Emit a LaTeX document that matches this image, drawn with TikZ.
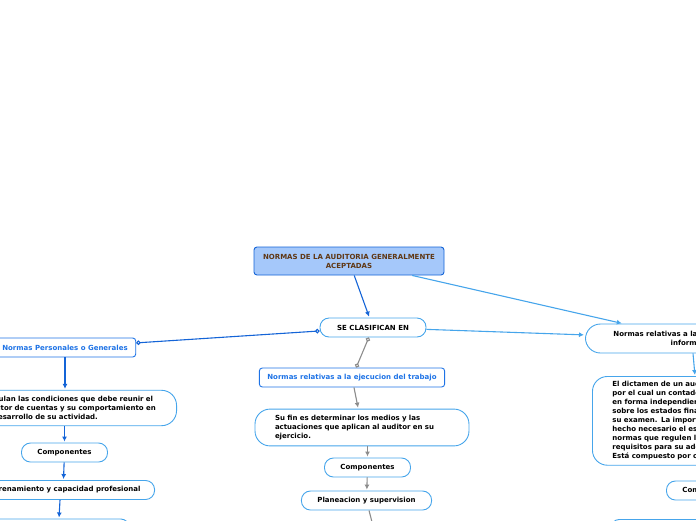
\documentclass[tikz,border=0pt]{standalone}
\usepackage{fontspec}
\setmainfont{DejaVu Sans}
\usetikzlibrary{arrows.meta}
\definecolor{lineblue}{RGB}{70,165,235}
\definecolor{deepblue}{RGB}{20,100,215}
\definecolor{topicblue}{RGB}{30,115,230}
\definecolor{rootfill}{RGB}{165,200,250}
\definecolor{roottext}{RGB}{95,55,20}
\definecolor{linkgray}{RGB}{140,140,140}
\tikzset{
  mapfont/.style={font=\fontsize{7}{9}\selectfont\bfseries},
  pill/.style={mapfont, draw=lineblue, line width=0.9pt, fill=white, rounded corners=9pt,
    inner xsep=16pt, inner ysep=0pt, minimum height=19pt, text=black},
  topic/.style={mapfont, draw=topicblue, line width=0.9pt, fill=white, rounded corners=3pt,
    inner xsep=8pt, inner ysep=0pt, minimum height=19pt, text=topicblue},
  note/.style={pill, rounded corners=15pt, align=left, inner xsep=20pt, inner ysep=6pt},
  root/.style={mapfont, draw=deepblue, line width=0.9pt, fill=rootfill, rounded corners=3pt,
    align=center, minimum width=190pt, minimum height=28pt, text=roottext},
  link/.style={line width=1.1pt, -{Latex[length=5pt,width=5pt]}, shorten >=1pt},
  dotlink/.style={line width=1.1pt,
    {Circle[open,length=4.5pt,width=4.5pt]}-{Circle[open,length=4.5pt,width=4.5pt]}}
}
\begin{document}
\begin{tikzpicture}[x=1pt,y=-1pt]
  \useasboundingbox (0,0) rectangle (696,520);
  \clip (0,0) rectangle (696,520);
  % central topic
  \node[root] (normas) at (349,261) {NORMAS DE LA AUDITORIA GENERALMENTE\\ACEPTADAS};
  \node[pill, minimum width=106pt] (clasif) at (373,327.5) {SE CLASIFICAN EN};
  % left branch
  \node[topic, minimum width=140pt] (personales) at (65,347.5) {Normas Personales o Generales};
  \node[note, text width=173pt, anchor=east] (regulan) at (177,408)
    {Regulan las condiciones que debe reunir el\\auditor de cuentas y su comportamiento en\\el desarrollo de su actividad.};
  \node[pill, minimum width=85pt] (compA) at (64.5,452.5) {Componentes};
  \node[pill, inner xsep=14pt, anchor=east] (entren) at (155,490) {Entrenamiento y capacidad profesional};
  \node[pill, minimum width=170pt, anchor=north east] (nextA) at (130,518.5) {};
  % middle branch
  \node[topic, minimum width=184pt] (ejecucion) at (352,377.5) {Normas relativas a la ejecucion del trabajo};
  \node[note, text width=174pt] (sufin) at (362,427.5)
    {Su fin es determinar los medios y las\\actuaciones que aplican al auditor en su\\ejercicio.};
  \node[pill, minimum width=85pt] (compB) at (367.5,467.5) {Componentes};
  \node[pill, minimum width=129pt] (planeacion) at (366.5,500.5) {Planeacion y supervision};
  \coordinate (nextB) at (374,530);
  % right branch
  \node[pill, rounded corners=15pt, align=center, inner xsep=28pt, minimum height=29pt, anchor=west]
    (informe) at (585,338.5) {Normas relativas a la rendición de los\\informes};
  \node[note, text width=200pt, inner ysep=5pt, anchor=north west] (dictamen) at (592,376)
    {El dictamen de un auditor es el documento\\por el cual un contador expresa su opinión\\en forma independiente y con fundamento\\sobre los estados financieros objeto de\\su examen. La importancia del dictamen ha\\hecho necesario el establecimiento de\\normas que regulen la calidad y los\\requisitos para su adecuada elaboración.\\Está compuesto por cuatro normas.};
  \node[pill, anchor=west] (compC) at (666,490.5) {Componentes};
  \node[pill, minimum width=200pt, anchor=north west] (nextC) at (610,519) {};
  % connectors
  \draw[link, deepblue] (normas) -- (clasif);
  \draw[link, lineblue] (normas) -- (informe);
  \draw[link, lineblue] (clasif) -- (informe);
  \draw[dotlink, deepblue] (clasif) -- (personales);
  \draw[dotlink, linkgray] (clasif) -- (ejecucion);
  \draw[link, deepblue] (personales) -- (regulan.north -| personales);
  \draw[link, deepblue] (regulan.south -| compA) -- (compA);
  \draw[link, deepblue] (compA) -- (entren);
  \draw[link, deepblue] (entren.south -| 60,0) -- (nextA.north -| 59,0);
  \draw[link, linkgray] (ejecucion) -- (sufin);
  \draw[link, linkgray] (sufin.south -| compB) -- (compB);
  \draw[link, linkgray] (compB) -- (planeacion);
  \draw[line width=1.1pt, linkgray] (planeacion) -- (nextB);
  \draw[link, lineblue] (informe.south -| 693,0) -- (dictamen.north -| 695,0);
\end{tikzpicture}
\end{document}
